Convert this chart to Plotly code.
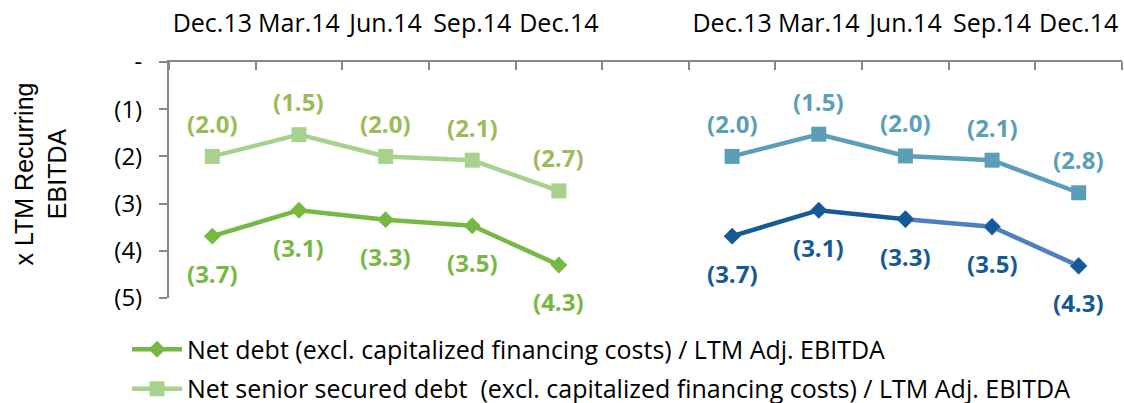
import plotly.graph_objects as go

# ---- data (x LTM EBITDA, shown negative as in the source) ----
periods = ["Dec.13", "Mar.14", "Jun.14", "Sep.14", "Dec.14"]
left_net_debt = [-3.69, -3.14, -3.34, -3.47, -4.30]
left_senior = [-2.00, -1.54, -2.00, -2.08, -2.73]
right_net_debt = [-3.69, -3.14, -3.33, -3.49, -4.32]
right_senior = [-2.00, -1.53, -1.99, -2.08, -2.77]
y_tick_vals = [0, -1, -2, -3, -4, -5]
y_tick_text = ["-", "(1)", "(2)", "(3)", "(4)", "(5)"]
y_title = "x LTM Recurring<br>EBITDA"
legend_names = [
    "Net debt (excl. capitalized financing costs) / LTM Adj. EBITDA",
    "Net senior secured debt \u00a0(excl. capitalized financing costs) / LTM Adj. EBITDA",
]

# category slots: 5 periods, one empty slot, 5 periods
left_x = list(range(len(periods)))
right_x = [i + len(periods) + 1 for i in range(len(periods))]
all_x = left_x + right_x
all_labels = periods + periods

GREEN = "#77B843"
LIGHT_GREEN = "#A9D18E"
OLIVE = "#9BBB59"
TEAL = "#5A9FB7"
DARK_BLUE = "#155A96"
MID_BLUE = "#4F7FBF"
AXIS = "#878787"
FONT = "Open Sans"

fig = go.Figure()

fig.add_trace(go.Scatter(
    x=left_x, y=left_net_debt, mode="lines+markers", name=legend_names[0],
    line=dict(color=GREEN, width=4.5),
    marker=dict(symbol="diamond", size=13, color=GREEN),
    legendgroup="a",
))
fig.add_trace(go.Scatter(
    x=left_x, y=left_senior, mode="lines+markers", name=legend_names[1],
    line=dict(color=LIGHT_GREEN, width=4.5),
    marker=dict(symbol="square", size=15, color=LIGHT_GREEN),
    legendgroup="b",
))
fig.add_trace(go.Scatter(
    x=right_x, y=right_senior, mode="lines+markers", showlegend=False,
    line=dict(color=TEAL, width=4.5),
    marker=dict(symbol="square", size=15, color=TEAL),
))
fig.add_trace(go.Scatter(
    x=right_x[2:], y=right_net_debt[2:], mode="lines+markers", showlegend=False,
    line=dict(color=MID_BLUE, width=4.5),
    marker=dict(symbol="diamond", size=13, color=DARK_BLUE,
                line=dict(color=MID_BLUE, width=1)),
))
fig.add_trace(go.Scatter(
    x=right_x[:3], y=right_net_debt[:3], mode="lines+markers", showlegend=False,
    line=dict(color=DARK_BLUE, width=4.5),
    marker=dict(symbol="diamond", size=13, color=DARK_BLUE),
))

def add_labels(xs, ys, color, shift):
    for xv, yv in zip(xs, ys):
        fig.add_annotation(
            x=xv, y=yv, text=f"({abs(yv):.1f})", showarrow=False, yshift=shift,
            font=dict(family=FONT, size=24, color=color, weight="bold"),
        )

add_labels(left_x, left_senior, OLIVE, 33)
add_labels(left_x, left_net_debt, GREEN, -37)
add_labels(right_x, right_senior, TEAL, 33)
add_labels(right_x, right_net_debt, DARK_BLUE, -37)

# y-axis title (rotated, two lines) placed left of the tick labels
fig.add_annotation(
    xref="paper", yref="paper", x=-0.135, y=0.525, text=y_title,
    textangle=-90, showarrow=False, xanchor="center", yanchor="middle",
    font=dict(family="Liberation Sans", size=25, color="#000000"),
)

fig.update_layout(
    width=1124, height=403,
    margin=dict(l=169, r=2, t=62, b=105, autoexpand=False),
    paper_bgcolor="white", plot_bgcolor="white",
    font=dict(family=FONT, size=25, color="#000000"),
    showlegend=True,
    legend=dict(
        xref="container", yref="container", x=0.113, y=0.19,
        xanchor="left", yanchor="top",
        font=dict(family=FONT, size=25, color="#000000"),
        tracegroupgap=4, itemwidth=50, bgcolor="rgba(0,0,0,0)",
    ),
    xaxis=dict(
        side="top", range=[-0.5, len(all_x) + 0.5], showgrid=False, zeroline=False,
        showline=True, linecolor=AXIS, linewidth=2, automargin=False,
        tickmode="array", tickvals=all_x, ticktext=all_labels, ticks="",
        tickangle=0, ticklabelstandoff=18,
        tickfont=dict(family=FONT, size=25, color="#000000"),
        minor=dict(tickmode="array",
                   tickvals=[v - 0.5 for v in range(len(all_x) + 2)],
                   ticks="inside", ticklen=8, tickwidth=2, tickcolor=AXIS),
    ),
    yaxis=dict(
        range=[-5, 0], showgrid=False, zeroline=False, automargin=False,
        showline=True, linecolor=AXIS, linewidth=2,
        tickmode="array", tickvals=y_tick_vals, ticktext=y_tick_text,
        ticks="outside", ticklen=8, tickwidth=2, tickcolor=AXIS,
        ticklabelstandoff=12,
        tickfont=dict(family=FONT, size=24, color="#000000"),
    ),
)

fig.write_html("out.html", config={"displayModeBar": False},
               post_script="document.body.style.margin='0';")
